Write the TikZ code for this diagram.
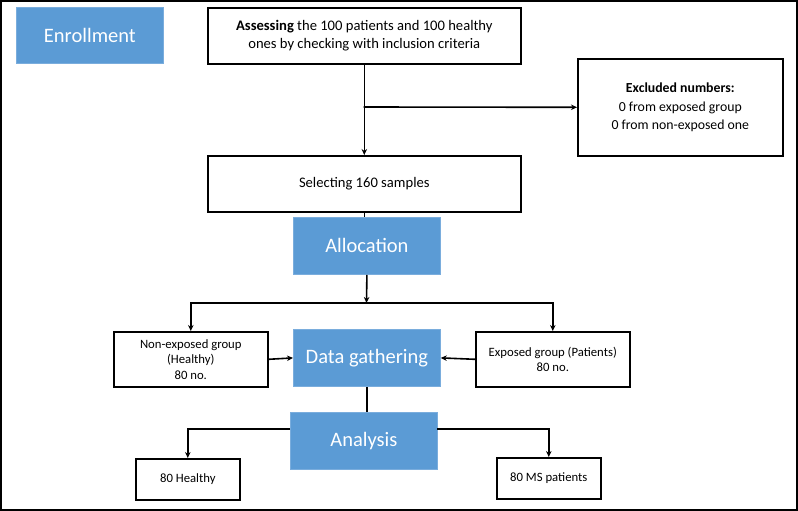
\documentclass[tikz,border=0pt]{standalone}
\usepackage{fontspec}
\setmainfont{Carlito}
\usetikzlibrary{arrows.meta}
\definecolor{oblue}{HTML}{5B9BD5}
\definecolor{oblueline}{HTML}{7AADDD}
\begin{document}
\begin{tikzpicture}[x=1pt,y=-1pt,
  wbox/.style={draw=black,line width=1.6pt,fill=white,anchor=north west,inner sep=2pt,align=center,font=\fontsize{14.6}{18}\selectfont},
  ebox/.style={wbox,font=\fontsize{13.8}{18.3}\selectfont},
  sbox/.style={wbox,font=\fontsize{12.7}{15.5}\selectfont},
  bbox/.style={draw=oblueline,line width=0.8pt,fill=oblue,anchor=north west,text=white,align=center,font=\fontsize{20.5}{22}\selectfont},
  arr/.style={line width=1.6pt,-{Stealth[length=6pt,width=5.5pt]}},
  ln/.style={line width=1.6pt}]
\useasboundingbox (0,0) rectangle (798,511);
\draw[line width=1.8pt] (0.9,0.9) rectangle (797.1,510.1);
\node[bbox,minimum width=147pt,minimum height=56pt] (enroll) at (16,7) {Enrollment};
\node[wbox,minimum width=313pt,minimum height=56pt] (assess) at (207,7) {\textbf{Assessing} the 100 patients and 100 healthy\\ones by checking with inclusion criteria};
\node[ebox,minimum width=205pt,minimum height=97pt] (excl) at (577,58) {\textbf{Excluded numbers:}\\0 from exposed group\\0 from non-exposed one};
\node[wbox,minimum width=313pt,minimum height=56pt] (select) at (207,155) {Selecting 160 samples};
\node[bbox,minimum width=147pt,minimum height=57pt] (alloc) at (293,217) {Allocation};
\node[sbox,minimum width=154pt,minimum height=55pt] (nonexp) at (113,331) {Non-exposed group\\(Healthy)\\80 no.};
\node[bbox,minimum width=147pt,minimum height=57pt] (data) at (293,329) {Data gathering};
\node[sbox,minimum width=154pt,minimum height=55pt] (exp) at (475,331) {Exposed group (Patients)\\80 no.};
\node[bbox,minimum width=147pt,minimum height=57pt] (anal) at (290,412) {Analysis};
\node[sbox,minimum width=104pt,minimum height=41pt] (healthy) at (135,458) {80 Healthy};
\node[sbox,minimum width=104pt,minimum height=41pt] (ms) at (496,457) {80 MS patients};
% connectors
\draw[arr] (assess.south) -- (select.north);
\coordinate (b1) at (363.5,107);
\draw[arr] (b1) -- (excl.west);
\draw[ln] (select.south) -- (select.south |- alloc.north);
\coordinate (split) at (366.5,303);
\draw[arr] (alloc.south) -- (split);
\draw[arr] (split) -| (nonexp.north);
\draw[arr] (split) -| (exp.north);
\draw[arr] (nonexp.east) -- (data.west);
\draw[arr] (exp.west) -- (data.east);
\draw[ln] (data.south) -- (data.south |- anal.north);
\coordinate (aL) at (290,429);
\coordinate (aR) at (437,429);
\draw[arr] (aL) -| (healthy.north);
\draw[arr] (aR) -| (ms.north);
\end{tikzpicture}
\end{document}
